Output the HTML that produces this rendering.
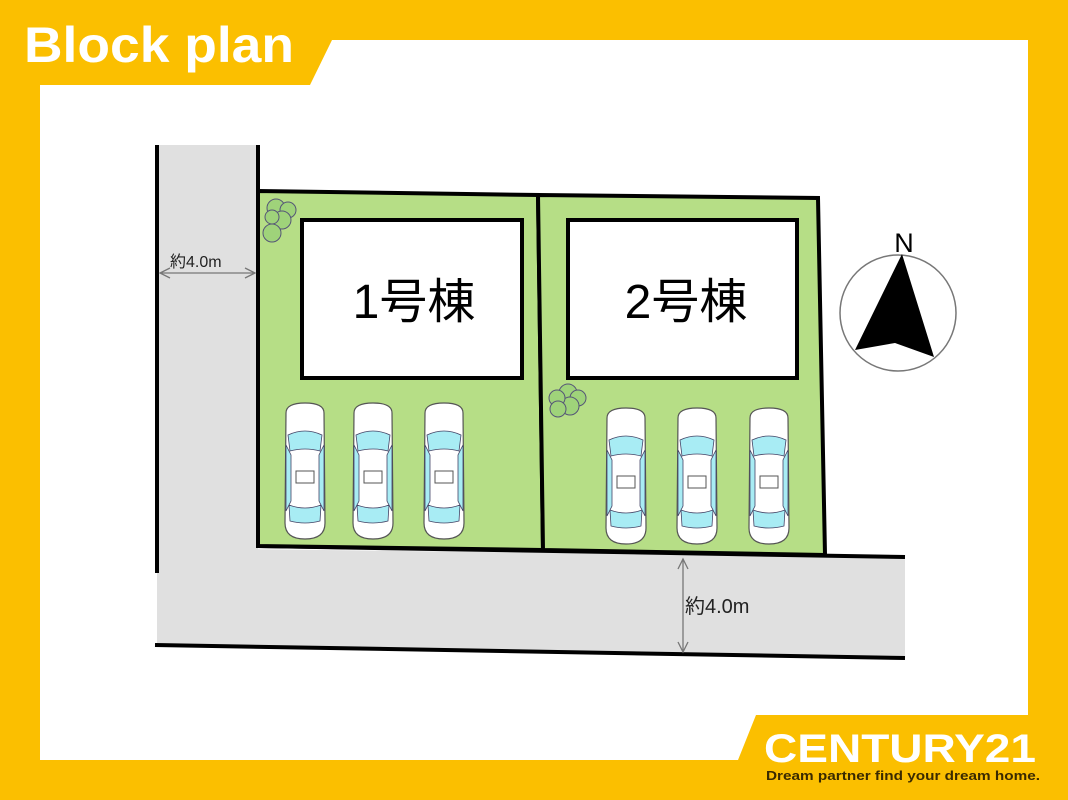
<!DOCTYPE html>
<html><head><meta charset="utf-8"><style>
html,body{margin:0;padding:0;background:#fbbf00;}
svg{display:block}
</style></head><body>
<svg width="1068" height="800" viewBox="0 0 1068 800" xmlns="http://www.w3.org/2000/svg">
<defs>
<g id="car">
 <path d="M4,10 Q4,0 23,0 Q42,0 42,10 L43,120 Q43,136 23,136 Q3,136 3,120 Z" fill="#fff" stroke="#555" stroke-width="1.2"/>
 <path d="M6,32 Q23,24 40,32 L38,48 Q23,44 8,48 Z" fill="#a8ecf4" stroke="#446" stroke-width="0.8"/>
 <path d="M7,102 Q23,108 39,102 L38,118 Q23,122 8,118 Z" fill="#a8ecf4" stroke="#446" stroke-width="0.8"/>
 <path d="M4,42 L9,52 L9,98 L4,108 Z" fill="#a8ecf4" stroke="#446" stroke-width="0.8"/>
 <path d="M42,42 L37,52 L37,98 L42,108 Z" fill="#a8ecf4" stroke="#446" stroke-width="0.8"/>
 <rect x="14" y="68" width="18" height="12" fill="#fff" stroke="#555" stroke-width="1"/>
</g>
</defs>
<rect width="1068" height="800" fill="#fbbf00"/>
<polygon points="40,85 310,85 332,40 1028,40 1028,715 756,715 738,760 40,760" fill="#fff"/>
<text x="24" y="62" font-family="Liberation Sans, sans-serif" font-weight="bold" font-size="50" fill="#fff" textLength="270" lengthAdjust="spacingAndGlyphs">Block plan</text>
<text x="764" y="762" font-family="Liberation Sans, sans-serif" font-weight="bold" font-size="40" fill="#fff" textLength="272" lengthAdjust="spacingAndGlyphs">CENTURY21</text>
<text x="766" y="780" font-family="Liberation Sans, sans-serif" font-weight="bold" font-size="13" fill="#3a2a00" textLength="274" lengthAdjust="spacingAndGlyphs">Dream partner find your dream home.</text>

<rect x="157" y="145" width="101" height="500" fill="#e0e0e0"/>
<polygon points="157,548 905,557 905,658 157,645" fill="#e0e0e0"/>
<line x1="157" y1="145" x2="157" y2="573" stroke="#000" stroke-width="4"/>
<line x1="258" y1="145" x2="258" y2="548" stroke="#000" stroke-width="4"/>
<line x1="258" y1="546" x2="905" y2="557" stroke="#000" stroke-width="4"/>
<line x1="155" y1="645" x2="905" y2="658" stroke="#000" stroke-width="4"/>

<polygon points="258,191 538,195 543,550 258,546" fill="#b6de86" stroke="#000" stroke-width="4"/>
<polygon points="538,195 818,198 825,555 543,550" fill="#b6de86" stroke="#000" stroke-width="4"/>
<rect x="302" y="220" width="220" height="158" fill="#fff" stroke="#000" stroke-width="4"/>
<rect x="568" y="220" width="229" height="158" fill="#fff" stroke="#000" stroke-width="4"/>
<text x="414" y="318" text-anchor="middle" font-family="Liberation Sans, 'Noto Sans CJK JP', sans-serif" font-size="48" fill="#000">1号棟</text>
<text x="686" y="318" text-anchor="middle" font-family="Liberation Sans, 'Noto Sans CJK JP', sans-serif" font-size="48" fill="#000">2号棟</text>

<g fill="#9fd37a" stroke="#557" stroke-width="1">
<circle cx="276" cy="208" r="9"/><circle cx="288" cy="210" r="8"/><circle cx="282" cy="220" r="9"/><circle cx="272" cy="217" r="7"/>
<circle cx="272" cy="233" r="9"/>
<circle cx="568" cy="393" r="9"/><circle cx="578" cy="398" r="8"/><circle cx="570" cy="406" r="9"/><circle cx="557" cy="398" r="8"/><circle cx="558" cy="409" r="8"/>
</g>

<use href="#car" x="282" y="403"/>
<use href="#car" x="350" y="403"/>
<use href="#car" x="421" y="403"/>
<use href="#car" x="603" y="408"/>
<use href="#car" x="674" y="408"/>
<use href="#car" x="746" y="408"/>

<g stroke="#777" stroke-width="1.3" fill="none">
<line x1="160" y1="273" x2="255" y2="273"/>
<polyline points="170,268 160,273 170,278"/><polyline points="245,268 255,273 245,278"/>
<line x1="683" y1="559" x2="683" y2="652"/>
<polyline points="678,569 683,559 688,569"/><polyline points="678,642 683,652 688,642"/>
</g>
<text x="170" y="267" font-family="Liberation Sans, 'Noto Sans CJK JP', sans-serif" font-size="16" fill="#222">約4.0m</text>
<text x="685" y="613" font-family="Liberation Sans, 'Noto Sans CJK JP', sans-serif" font-size="20" fill="#222">約4.0m</text>

<circle cx="898" cy="313" r="58" fill="#fff" stroke="#777" stroke-width="1.5"/>
<polygon points="902,254 855,350 895,343 934,357" fill="#000"/>
<text x="904" y="252" text-anchor="middle" font-family="Liberation Sans, sans-serif" font-size="27" fill="#000">N</text>
</svg>
</body></html>
